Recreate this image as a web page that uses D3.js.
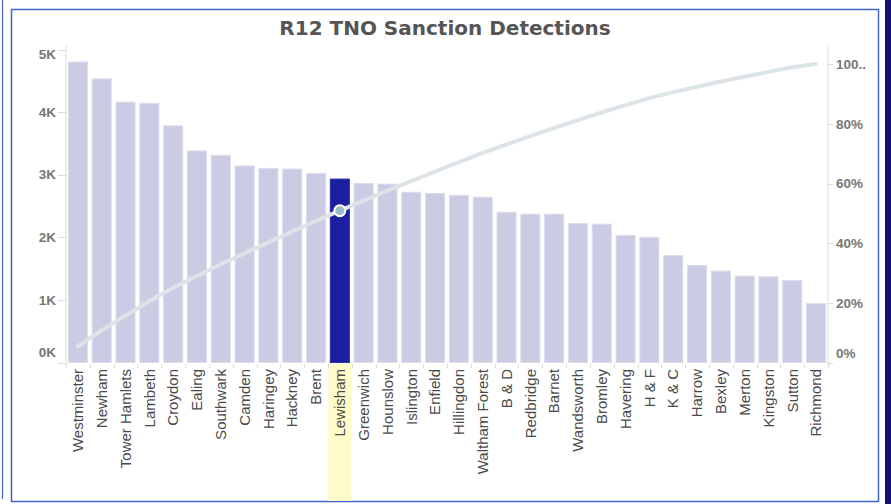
<!DOCTYPE html>
<html>
<head>
<meta charset="utf-8">
<script src="https://cdn.jsdelivr.net/npm/d3@7"></script>
<style>
    body { margin: 0; background: #fff; }
    svg { display: block; }
</style>
</head>
<body>
<div id="viz"></div>
<script>
/*global d3 */
var boroughs = [
        'Westminster', 'Newham', 'Tower Hamlets', 'Lambeth', 'Croydon', 'Ealing',
        'Southwark', 'Camden', 'Haringey', 'Hackney', 'Brent', 'Lewisham',
        'Greenwich', 'Hounslow', 'Islington', 'Enfield', 'Hillingdon', 'Waltham Forest',
        'B & D', 'Redbridge', 'Barnet', 'Wandsworth', 'Bromley', 'Havering',
        'H & F', 'K & C', 'Harrow', 'Bexley', 'Merton', 'Kingston', 'Sutton', 'Richmond'
    ],
    detections = [
        4800, 4530, 4160, 4140, 3780, 3380,
        3310, 3140, 3100, 3090, 3020, 2930,
        2860, 2850, 2720, 2700, 2670, 2640,
        2400, 2370, 2370, 2220, 2210, 2030,
        2000, 1710, 1550, 1460, 1380, 1370, 1310, 940
    ],
    countTicks = [0, 1000, 2000, 3000, 4000, 5000],
    countTickLabels = ['0K', '1K', '2K', '3K', '4K', '5K'],
    pctTicks = [0, 0.2, 0.4, 0.6, 0.8, 1],
    pctTickLabels = ['0%', '20%', '40%', '60%', '80%', '100..'],
    highlighted = 'Lewisham',
    title = 'R12 TNO Sanction Detections';

(function () {
    'use strict';

    var width = 891,
        height = 504,
        grey = '#dcdcdc';

    var svg = d3.select('#viz').append('svg')
        .attr('width', width)
        .attr('height', height);

    // frame
    svg.append('rect').attr('x', 885).attr('y', 0).attr('width', 6).attr('height', height).attr('fill', '#10107a');
    svg.append('line').attr('x1', 2.5).attr('x2', 2.5).attr('y1', 0).attr('y2', 499)
        .attr('stroke', '#3f60c4').attr('stroke-width', 1.2);
    svg.append('rect').attr('x', 11.5).attr('y', 9.5).attr('width', 867).attr('height', 492)
        .attr('fill', 'none').attr('stroke', '#4466c8').attr('stroke-width', 1.5);

    svg.append('text')
        .attr('x', 445).attr('y', 35)
        .attr('text-anchor', 'middle')
        .style('font-family', 'DejaVu Sans, Verdana, sans-serif')
        .style('font-weight', 'bold')
        .style('font-size', '20px')
        .attr('fill', '#555')
        .text(title);

    var x = d3.scaleBand().domain(boroughs).range([66, 828]).paddingInner(0.2).paddingOuter(0.1),
        y = d3.scaleLinear().domain([0, 5000]).range([362.5, 49.5]),
        yPct = d3.scaleLinear().domain([0, 1]).range([363, 64]);

    var total = d3.sum(detections),
        running = 0,
        cumulative = detections.map(function (v) { running += v; return running / total; });

    // highlight behind the label
    svg.append('rect')
        .attr('x', x(highlighted) - 2).attr('y', 364)
        .attr('width', x.bandwidth() + 4).attr('height', 137)
        .attr('fill', '#fefdc9');

    // left axis
    svg.append('line').attr('x1', 66).attr('x2', 66).attr('y1', 45).attr('y2', 364)
        .attr('stroke', grey);
    var leftAxis = svg.append('g').attr('class', 'axis-left');
    leftAxis.selectAll('line').data(countTicks).enter().append('line')
        .attr('x1', 58).attr('x2', 66)
        .attr('y1', function (d) { return Math.round(y(d)) + 0.5; })
        .attr('y2', function (d) { return Math.round(y(d)) + 0.5; })
        .attr('stroke', grey);
    leftAxis.selectAll('text').data(countTicks).enter().append('text')
        .attr('x', 56)
        .attr('y', function (d, i) { return y(d) + (i === 0 ? -10 : i === countTicks.length - 1 ? 5 : 0); })
        .attr('dy', '0.35em')
        .attr('text-anchor', 'end')
        .style('font-family', 'Liberation Sans, Arial, sans-serif')
        .style('font-weight', 'bold')
        .style('font-size', '13.5px')
        .attr('fill', '#777')
        .text(function (d, i) { return countTickLabels[i]; });

    // right axis
    svg.append('line').attr('x1', 828).attr('x2', 828).attr('y1', 45).attr('y2', 366)
        .attr('stroke', grey);
    var rightAxis = svg.append('g').attr('class', 'axis-right');
    rightAxis.selectAll('line').data(pctTicks).enter().append('line')
        .attr('x1', 828).attr('x2', 833)
        .attr('y1', function (d) { return Math.round(yPct(d)) + 0.5; })
        .attr('y2', function (d) { return Math.round(yPct(d)) + 0.5; })
        .attr('stroke', grey);
    rightAxis.selectAll('text').data(pctTicks).enter().append('text')
        .attr('x', 836)
        .attr('y', function (d, i) { return yPct(d) + (i === 0 ? -10 : 0); })
        .attr('dy', '0.35em')
        .style('font-family', 'Liberation Sans, Arial, sans-serif')
        .style('font-weight', 'bold')
        .style('font-size', '13.5px')
        .attr('fill', '#777')
        .text(function (d, i) { return pctTickLabels[i]; });

    // bars
    svg.selectAll('rect.bar').data(detections).enter().append('rect')
        .attr('class', 'bar')
        .attr('x', function (d, i) { return x(boroughs[i]); })
        .attr('y', function (d) { return y(d); })
        .attr('width', x.bandwidth())
        .attr('height', function (d) { return y(0) - y(d); })
        .attr('fill', function (d, i) { return boroughs[i] === highlighted ? '#1b1f9f' : '#cbcbe4'; })
        .attr('stroke', function (d, i) { return boroughs[i] === highlighted ? '#2a2fa8' : '#dcdcee'; })
        .attr('stroke-width', 1);

    // band ticks under the bars
    svg.selectAll('line.band-tick').data(d3.range(boroughs.length + 1)).enter().append('line')
        .attr('class', 'band-tick')
        .attr('x1', function (i) { return Math.round(66 + i * x.step()) + 0.5; })
        .attr('x2', function (i) { return Math.round(66 + i * x.step()) + 0.5; })
        .attr('y1', 364).attr('y2', 368)
        .attr('stroke', grey);

    // category labels
    svg.selectAll('text.cat').data(boroughs).enter().append('text')
        .attr('class', 'cat')
        .attr('transform', function (d) {
            return 'translate(' + (x(d) + x.bandwidth() / 2) + ',369) rotate(-90)';
        })
        .attr('dy', '0.35em')
        .attr('text-anchor', 'end')
        .style('font-family', 'Liberation Sans, Arial, sans-serif')
        .style('font-size', '15px')
        .attr('fill', '#4a4a4a')
        .text(function (d) { return d; });

    // cumulative line
    var line = d3.line()
        .x(function (d, i) { return x(boroughs[i]) + x.bandwidth() / 2; })
        .y(function (d) { return yPct(d); });

    svg.append('path')
        .datum(cumulative)
        .attr('d', line)
        .attr('fill', 'none')
        .attr('stroke', '#dde4e8')
        .attr('stroke-width', 4)
        .attr('stroke-linecap', 'round')
        .attr('stroke-linejoin', 'round');

    var hi = boroughs.indexOf(highlighted);
    svg.append('circle')
        .attr('cx', x(highlighted) + x.bandwidth() / 2)
        .attr('cy', yPct(cumulative[hi]))
        .attr('r', 5.5)
        .attr('fill', '#9cbcc8')
        .attr('stroke', '#fff')
        .attr('stroke-width', 2);
}());
</script>
</body>
</html>
